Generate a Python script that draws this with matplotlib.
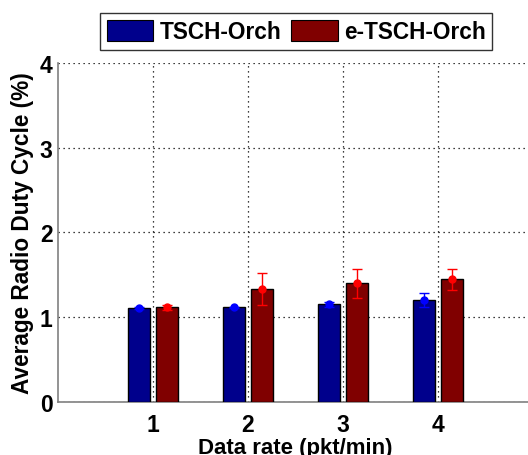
import matplotlib
matplotlib.use("Agg")
import matplotlib.pyplot as plt
from matplotlib.patches import Patch
import numpy as np

rates = [1, 2, 3, 4]
series = ["TSCH-Orch", "e-TSCH-Orch"]
tsch_mean = [1.106, 1.114, 1.15, 1.20]
tsch_err = [0.01, 0.01, 0.03, 0.08]
etsch_mean = [1.114, 1.327, 1.398, 1.445]
etsch_err = [0.03, 0.19, 0.17, 0.125]
yticks = [0, 1, 2, 3, 4]

plt.rcParams['font.family'] = ['Liberation Sans', 'DejaVu Sans']
plt.rcParams['font.weight'] = 'bold'

fig = plt.figure(figsize=(5.28, 4.56), dpi=100)
ax = fig.add_axes([58/528, (456-402.7)/456, (533-58)/528, (402.7-64)/456])

x = np.array(rates, dtype=float)
w = 0.237
off = 0.147
bar_colors = ["#00008C", "#800000"]
err_colors = ["#0000FF", "#FF0000"]

ax.bar(x - off, tsch_mean, w, color=bar_colors[0], edgecolor="black", linewidth=1.0, zorder=3)
ax.bar(x + off, etsch_mean, w, color=bar_colors[1], edgecolor="black", linewidth=1.0, zorder=3)
ax.errorbar(x - off, tsch_mean, yerr=tsch_err, fmt='o', color=err_colors[0], ms=5,
            elinewidth=1, capsize=3.5, capthick=1, zorder=4)
ax.errorbar(x + off, etsch_mean, yerr=etsch_err, fmt='o', color=err_colors[1], ms=5,
            elinewidth=1, capsize=3.5, capthick=1, zorder=4)

ax.set_xlim(0, 5)
ax.set_ylim(0, 4)
ax.set_xticks(rates)
ax.set_yticks(yticks)
ax.tick_params(length=0, labelsize=16.5)
ax.tick_params(axis='x', pad=8)
ax.tick_params(axis='y', pad=4)
for lbl in ax.get_xticklabels() + ax.get_yticklabels():
    lbl.set_fontweight('bold')
ax.grid(True, linestyle=(0, (1, 3)), color='black', linewidth=0.9, zorder=0)
ax.set_axisbelow(True)
for s in ['top', 'right']:
    ax.spines[s].set_visible(False)
for s in ['left', 'bottom']:
    ax.spines[s].set_color('#808080')
    ax.spines[s].set_linewidth(1.2)

ax.set_xlabel("Data rate (pkt/min)", fontsize=16, fontweight='bold', labelpad=1)
ax.set_ylabel("Average Radio Duty Cycle (%)", fontsize=16.3, fontweight='bold', labelpad=4)

handles = [Patch(facecolor=bar_colors[0], edgecolor='black', linewidth=0.8),
           Patch(facecolor=bar_colors[1], edgecolor='black', linewidth=0.8)]
leg = fig.legend(handles, series, loc='upper left', bbox_to_anchor=(100/528, 1 - 14/456),
                 ncol=2, prop={'weight': 'bold', 'size': 16.3},
                 handlelength=2.05, handleheight=1.05, handletextpad=0.27,
                 columnspacing=0.45, borderpad=0.3, frameon=True, fancybox=False,
                 borderaxespad=0)
leg.get_frame().set_edgecolor('black')
leg.get_frame().set_linewidth(1.0)

fig.savefig("out.png", dpi=100)
